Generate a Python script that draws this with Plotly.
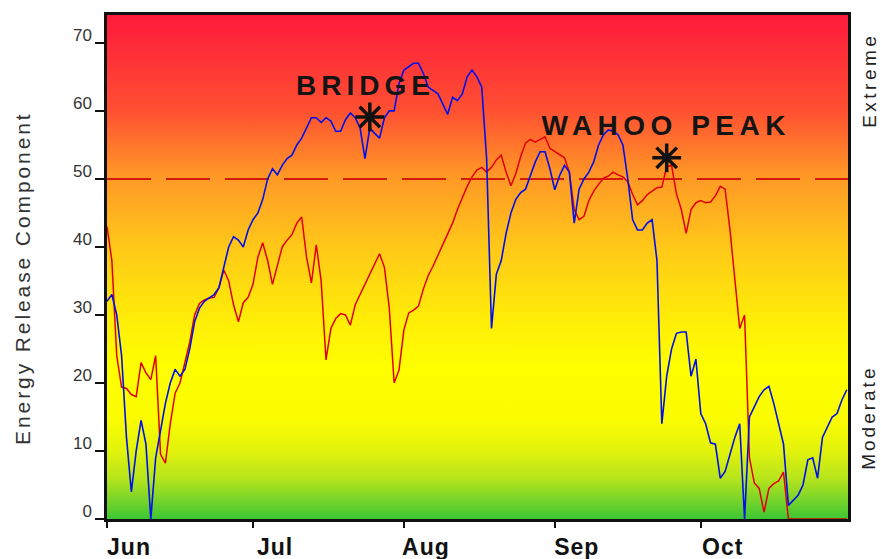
import base64
import pandas as pd
import plotly.graph_objects as go

# ---------------- data ----------------
start_date = "2007-06-01"
end_date = "2007-10-31 06:00"

blue_erc = [
    32, 33, 30, 24, 12, 4, 10, 14.5, 11, 0,
    9, 13, 17, 20, 22, 21, 22, 25, 29, 31,
    32, 32.5, 33, 34, 37, 40, 41.5, 41, 40, 42.5,
    44, 45, 47, 50, 51.5, 50.6, 52, 53, 53.5, 55,
    56, 57.5, 59, 59, 58.3, 59, 58.5, 57, 57, 58.7,
    59.7, 59, 57.5, 53, 57.5, 56.7, 56, 59, 60, 60,
    64, 66, 66.5, 67, 67, 65.5, 63.5, 63, 62.5, 61,
    59.5, 62, 61.5, 62.5, 65, 66, 65, 63.5, 53, 28,
    36, 38, 42, 45, 47, 48, 48.5, 50.5, 52.5, 54,
    54, 51.5, 48.4, 50.5, 52, 51, 43.5, 48.5, 50, 51,
    52.5, 55, 56.5, 57.2, 57, 56.5, 55, 50, 44, 42.5,
    42.5, 43.5, 44, 38, 14, 21, 25, 27.3, 27.5, 27.5,
    21, 23.5, 15.5, 14, 11.2, 11, 6, 7, 9.5, 12,
    14, 0, 15, 16.5, 18, 19, 19.5, 17, 14, 11,
    2, 2.8, 3.5, 5, 8.7, 9, 6, 12, 13.5, 15,
    15.5, 17.5, 19,
]

red_erc = [
    43, 38, 24, 19.4, 19.2, 18.3, 18, 23, 21.5, 20.5,
    24, 9.5, 8.2, 14, 18.5, 20, 23, 26, 30, 31.7,
    32.2, 32.5, 32.6, 34, 36.6, 35, 31.5, 29, 31.8, 32.6,
    34.5, 38.5, 40.6, 38, 34.5, 37.3, 40, 41, 41.8, 43.5,
    44.4, 38.5, 34.7, 40.3, 35, 23.4, 28, 29.5, 30.2, 30,
    28.5, 31.5, 33, 34.6, 36, 37.5, 39, 37, 31, 20,
    21.9, 27.8, 30.3, 30.7, 31.3, 33.8, 35.8, 37.2, 38.8, 40.3,
    41.9, 43.5, 45.5, 47.3, 48.9, 50.3, 51.3, 51.7, 51, 51.7,
    52.8, 53.5, 51, 49, 50.8, 53.3, 55.3, 55.8, 55.4, 55.8,
    56.2, 54.5, 54, 53.5, 53.1, 51, 45.5, 44, 44.5, 46.8,
    48.2, 49.2, 50.1, 50.4, 51, 50.6, 50.3, 49.6, 47.7, 46.2,
    46.8, 47.7, 48.2, 48.7, 48.8, 51.8, 52, 47.8, 45.5, 42,
    45.5, 46.5, 46.8, 46.5, 46.6, 47.5, 48.9, 48.5, 42.5, 35,
    28, 30, 9, 5.3, 4.5, 1, 4.5, 5.2, 5.6, 6.9,
    0, 0, 0, 0, 0, 0, 0, 0, 0, 0,
    0, 0, 0,
]

threshold = 50

month_ticks = ["2007-06-01", "2007-07-01", "2007-08-01", "2007-09-01", "2007-10-01"]
month_labels = ["Jun", "Jul", "Aug", "Sep", "Oct"]
y_ticks = [0, 10, 20, 30, 40, 50, 60, 70]

y_title = "Energy Release Component"
side_labels = ["Extreme", "Moderate"]
side_label_y = [0.871, 0.200]

site_names = ["BRIDGE", "WAHOO PEAK"]
site_label_x = ["2007-07-24 04:00", "2007-09-23 20:00"]
site_label_y = [63.8, 57.8]
site_star_x = ["2007-07-25", "2007-09-24"]
site_star_y = [59.1, 53.1]

dates = pd.date_range(start_date, periods=len(blue_erc), freq="D")

# ---------------- background gradient (red -> yellow -> green) ----------------
grad_stops = [
    (0.00, "#ff1a3c"), (0.19, "#ff5032"), (0.32, "#ff9826"), (0.46, "#ffc818"),
    (0.60, "#ffec08"), (0.70, "#ffff00"), (0.80, "#fbfc00"), (0.865, "#e2f30c"),
    (0.92, "#b6e41c"), (0.96, "#7cd52a"), (1.00, "#3cc634"),
]
stops = "".join(f'<stop offset="{o}" stop-color="{c}"/>' for o, c in grad_stops)
svg = ('<svg xmlns="http://www.w3.org/2000/svg" width="10" height="100" '
       'viewBox="0 0 10 100" preserveAspectRatio="none"><defs>'
       f'<linearGradient id="g" x1="0" y1="0" x2="0" y2="1">{stops}</linearGradient>'
       '</defs><rect x="0" y="0" width="10" height="100" fill="url(#g)"/></svg>')
bg_src = "data:image/svg+xml;base64," + base64.b64encode(svg.encode()).decode()

fig = go.Figure()

fig.add_trace(go.Scatter(
    x=[dates[0], end_date], y=[threshold, threshold], mode="lines",
    line=dict(color="#d41a08", width=2, dash="44px,15px"), hoverinfo="skip"))

fig.add_trace(go.Scatter(
    x=dates, y=red_erc, mode="lines", line=dict(color="#e00000", width=1.5)))
fig.add_trace(go.Scatter(
    x=dates, y=blue_erc, mode="lines", line=dict(color="#0010e8", width=1.6)))

fig.add_trace(go.Scatter(
    x=site_star_x, y=site_star_y, mode="markers",
    marker=dict(symbol="asterisk-open", size=24, color="#111111",
                line=dict(color="#111111", width=3.5))))

annotations = []
for name, lx, ly in zip(site_names, site_label_x, site_label_y):
    annotations.append(dict(
        x=lx, y=ly, xref="x", yref="y", text=name, showarrow=False,
        font=dict(family="Liberation Sans", size=28, color="#141414", weight="bold"),
        xanchor="center", yanchor="middle"))

for txt, py in zip(side_labels, side_label_y):
    annotations.append(dict(
        x=1.0278, y=py, xref="paper", yref="paper", text=txt, showarrow=False,
        textangle=-90, font=dict(family="Liberation Sans", size=19, color="#222222"),
        xanchor="center", yanchor="middle"))

annotations.append(dict(
    x=-0.1147, y=0.478, xref="paper", yref="paper", text=y_title, showarrow=False,
    textangle=-90, font=dict(family="Liberation Sans", size=21, color="#333333"),
    xanchor="center", yanchor="middle"))

fig.update_layout(
    width=881, height=559,
    margin=dict(l=107, r=33, t=15, b=40, autoexpand=False),
    paper_bgcolor="white", plot_bgcolor="#ffff00",
    showlegend=False,
    annotations=annotations,
    images=[dict(source=bg_src, xref="paper", yref="paper", x=0, y=1,
                 sizex=1, sizey=1, xanchor="left", yanchor="top",
                 sizing="stretch", layer="below")],
)

fig.update_xaxes(
    type="date", range=[start_date, end_date], automargin=False,
    tickvals=month_ticks, ticktext=month_labels,
    ticks="outside", ticklen=6, tickwidth=1.5, tickcolor="#111111",
    tickfont=dict(family="Liberation Sans", size=23, color="#111111", weight="bold"),
    ticklabelshift=22, ticklabelstandoff=0,
    showgrid=False, zeroline=False,
    showline=True, linecolor="#111111", linewidth=2.5, mirror=True,
)

fig.update_yaxes(
    range=[0, 74.1], tickvals=y_ticks, automargin=False,
    ticks="outside", ticklen=9, tickwidth=1.5, tickcolor="#111111",
    tickfont=dict(family="Liberation Sans", size=17, color="#333333"),
    ticklabelshift=-8, ticklabelstandoff=0,
    showgrid=False, zeroline=False,
    showline=True, linecolor="#111111", linewidth=2.5, mirror=True,
)

spacing_js = """
document.body.style.margin='0px';
(function(){
  var sp = {'BRIDGE':'5px','WAHOO PEAK':'5.5px','Extreme':'3.5px','Moderate':'3px',
            'Energy Release Component':'2.9px','Jun':'1px','Jul':'1px','Aug':'1px','Sep':'1px','Oct':'1px'};
  document.querySelectorAll('text').forEach(function(t){
    var k = t.textContent;
    if (sp[k]) { t.style.letterSpacing = sp[k]; }
  });
})();
"""

fig.write_html("out.html", config={"displayModeBar": False}, post_script=spacing_js)
